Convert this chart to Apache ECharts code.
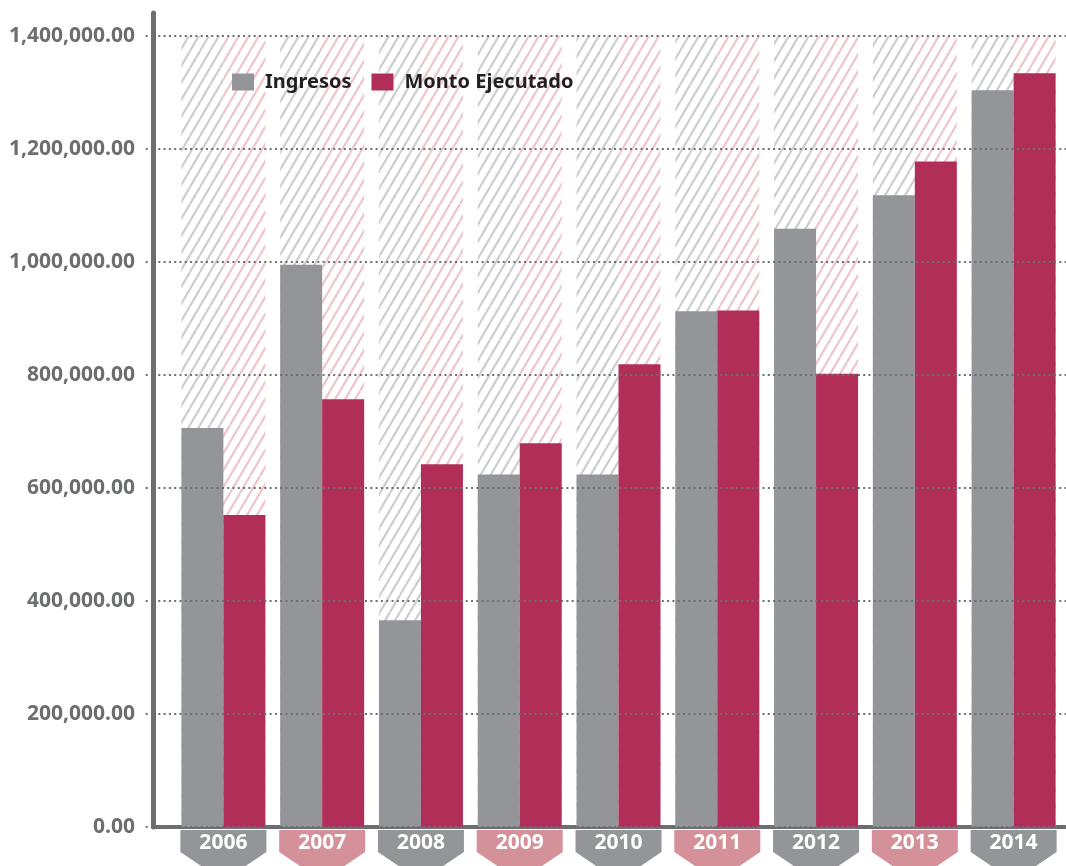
<!DOCTYPE html>
<html>
<head>
<meta charset="utf-8">
<script src="https://cdn.jsdelivr.net/npm/echarts@6/dist/echarts.min.js"></script>
<style>
  html, body { margin: 0; padding: 0; background: #fff; }
  #chart { width: 1066px; height: 866px; }
</style>
</head>
<body>
<div id="chart"></div>
<script>
const years = ["2006", "2007", "2008", "2009", "2010", "2011", "2012", "2013", "2014"];
const ingresos = [706000, 995000, 366000, 624000, 624000, 913000, 1059000, 1118000, 1304000];
const montoEjecutado = [552000, 757000, 642000, 679000, 819000, 914000, 802000, 1178000, 1334000];
const yMax = 1400000;
const yStep = 200000;

const GRAY = "#939598";
const RED = "#b02e57";
const AXIS = "#6d6e71";
const TAG_COLORS = ["#939598", "#d4919a"];
const FONT = "'Noto Sans', 'Open Sans', sans-serif";

// diagonal hatch used as the bar background
function hatch(color) {
  const w = 10, h = 17;
  const c = document.createElement("canvas");
  c.width = w; c.height = h;
  const ctx = c.getContext("2d");
  ctx.strokeStyle = color;
  ctx.lineWidth = 2.2;
  [-w, 0, w].forEach(dx => {
    ctx.beginPath();
    ctx.moveTo(dx, h);
    ctx.lineTo(dx + w, 0);
    ctx.stroke();
  });
  return { image: c, repeat: "repeat" };
}

function fmt(v) {
  const s = Math.round(v).toString().replace(/\B(?=(\d{3})+(?!\d))/g, ",");
  return s + ".00";
}

const chart = echarts.init(document.getElementById("chart"));
const BOTTOM = 39;

chart.setOption({
  animation: false,
  legend: {
    data: ["Ingresos", "Monto Ejecutado"],
    left: 227,
    top: 67,
    itemWidth: 22,
    itemHeight: 17,
    itemGap: 20,
    icon: "rect",
    textStyle: {
      fontFamily: FONT,
      fontSize: 20,
      fontWeight: "bold",
      color: "#231f20",
      padding: [0, 0, 0, 6]
    }
  },
  grid: [
    // frame: tall y axis line
    { left: 153, right: 0, top: 13, bottom: BOTTOM },
    // labels, ticks, gridlines, bottom line
    { left: 153, right: 0, top: 36, bottom: BOTTOM },
    // bars
    { left: 174, right: 3, top: 36, bottom: BOTTOM }
  ],
  xAxis: [
    { gridIndex: 0, type: "value", show: false },
    {
      gridIndex: 1, type: "value", min: 0, max: 1,
      axisLine: { show: true, lineStyle: { color: AXIS, width: 4, cap: "round" } },
      axisTick: { show: false }, axisLabel: { show: false }, splitLine: { show: false }
    },
    {
      gridIndex: 2, type: "category", data: years,
      axisLine: { show: false }, axisTick: { show: false }, axisLabel: { show: false }
    }
  ],
  yAxis: [
    {
      gridIndex: 0, type: "value", min: 0, max: 1,
      axisLine: { show: true, lineStyle: { color: AXIS, width: 5, cap: "round" } },
      axisTick: { show: false }, axisLabel: { show: false }, splitLine: { show: false }
    },
    {
      gridIndex: 1, type: "value", min: 0, max: yMax, interval: yStep, z: 5,
      axisLine: { show: false },
      axisTick: {
        show: true, length: 10,
        lineStyle: { color: AXIS, width: 2, type: [2, 3.3] }
      },
      axisLabel: {
        margin: 18,
        color: AXIS,
        fontFamily: FONT,
        fontSize: 21,
        fontWeight: "bold",
        padding: [0, 0, 10, 0],
        formatter: fmt
      },
      splitLine: {
        show: true,
        lineStyle: { color: AXIS, width: 2, type: [2, 3.3] }
      }
    },
    { gridIndex: 2, type: "value", min: 0, max: yMax, show: false }
  ],
  series: [
    {
      name: "Ingresos",
      type: "bar",
      xAxisIndex: 2, yAxisIndex: 2,
      data: ingresos,
      barWidth: 42,
      barGap: "0%",
      itemStyle: { color: GRAY },
      showBackground: true,
      backgroundStyle: { color: hatch("#cdced0") }
    },
    {
      name: "Monto Ejecutado",
      type: "bar",
      xAxisIndex: 2, yAxisIndex: 2,
      data: montoEjecutado,
      barWidth: 42,
      barGap: "0%",
      itemStyle: { color: RED },
      showBackground: true,
      backgroundStyle: { color: hatch("#edc6ca") }
    },
    {
      name: "tags",
      type: "custom",
      xAxisIndex: 2, yAxisIndex: 2,
      clip: false,
      z: 6,
      data: years.map((y, i) => [i, 0]),
      renderItem: function (params, api) {
        const i = api.value(0);
        const p = api.coord([i, 0]);
        const half = 43;
        const top = p[1] + 3;
        const side = p[1] + 25;
        const tip = side + 29;
        return {
          type: "group",
          children: [
            {
              type: "polygon",
              shape: {
                points: [
                  [p[0] - half, top], [p[0] + half, top], [p[0] + half, side],
                  [p[0], tip], [p[0] - half, side]
                ]
              },
              style: { fill: TAG_COLORS[i % 2] }
            },
            {
              type: "text",
              style: {
                text: years[i],
                x: p[0],
                y: p[1] + 16,
                align: "center",
                verticalAlign: "middle",
                fill: "#ffffff",
                fontFamily: FONT,
                fontSize: 21,
                fontWeight: "bold"
              }
            }
          ]
        };
      }
    }
  ]
});
</script>
</body>
</html>
